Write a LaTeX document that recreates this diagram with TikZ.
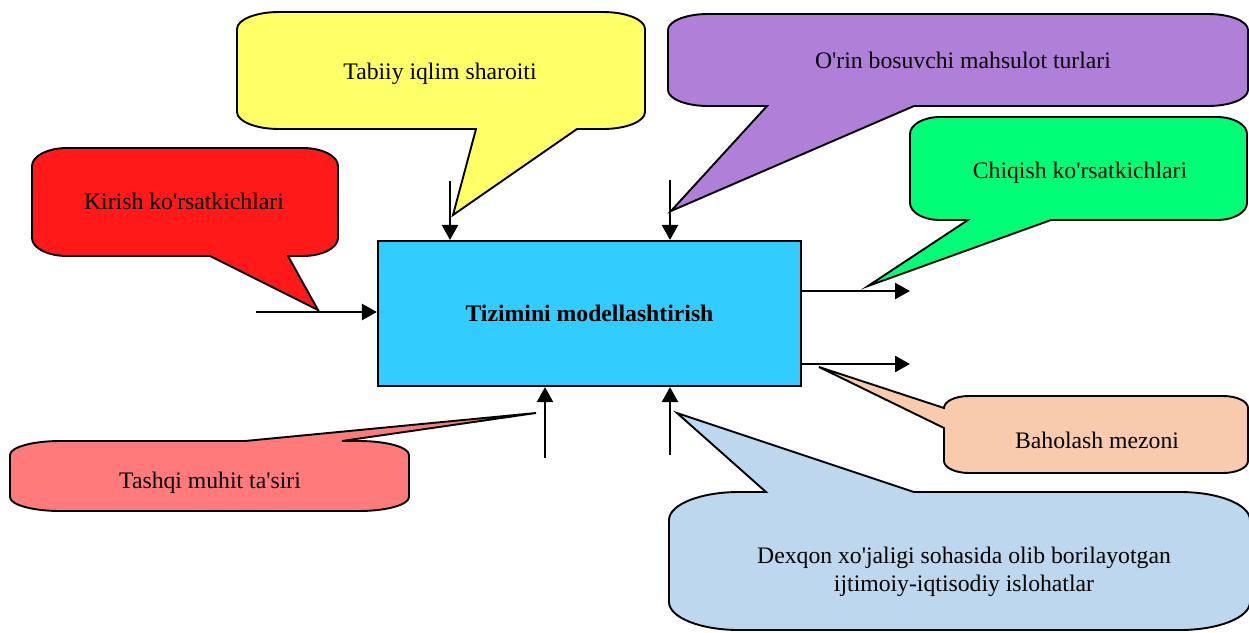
\documentclass[tikz,border=0pt]{standalone}
\usepackage{fontspec}
\setmainfont{Liberation Serif}[Ligatures=TeXOff]
\usetikzlibrary{arrows.meta}
\definecolor{cRed}{RGB}{255,25,25}
\definecolor{cYel}{RGB}{255,255,102}
\definecolor{cPur}{RGB}{176,127,216}
\definecolor{cGrn}{RGB}{0,255,119}
\definecolor{cCyan}{RGB}{51,204,255}
\definecolor{cPeach}{RGB}{248,203,173}
\definecolor{cSalmon}{RGB}{255,123,123}
\definecolor{cLBlue}{RGB}{189,215,238}
\begin{document}
\begin{tikzpicture}[x=1pt,y=-1pt,
  callout/.style={draw=black,line width=1.9pt,line join=miter},
  lbl/.style={font=\fontsize{23.7}{28}\selectfont,inner sep=0pt,anchor=base},
  arr/.style={line width=2.4pt,-{Triangle[length=15pt,width=16pt]}},
  mainbox/.style={draw=black,line width=2.1pt,fill=cCyan,inner sep=0pt,
    minimum width=423pt,minimum height=145pt,font=\fontsize{23.7}{28}\selectfont\bfseries}]
\useasboundingbox (0,0) rectangle (1249,632);

% Yellow callout
\path[callout,fill=cYel] (279,12) -- (603,12) arc[start angle=-90,end angle=0,x radius=42,y radius=17]
  -- (645,112) arc[start angle=0,end angle=90,x radius=42,y radius=17]
  -- (577,129) -- (453,215) -- (476,129) -- (279,129)
  arc[start angle=90,end angle=180,x radius=42,y radius=17]
  -- (237,29) arc[start angle=180,end angle=270,x radius=42,y radius=17] -- cycle;
% Purple callout
\path[callout,fill=cPur] (708,14) -- (1208,14) arc[start angle=-90,end angle=0,x radius=40,y radius=16]
  -- (1248,90) arc[start angle=0,end angle=90,x radius=40,y radius=16]
  -- (914,106) -- (671,211) -- (767,106) -- (708,106)
  arc[start angle=90,end angle=180,x radius=40,y radius=16]
  -- (668,30) arc[start angle=180,end angle=270,x radius=40,y radius=16] -- cycle;
% Red callout
\path[callout,fill=cRed] (67,148) -- (303,148) arc[start angle=-90,end angle=0,x radius=35,y radius=18]
  -- (338,238) arc[start angle=0,end angle=90,x radius=35,y radius=18]
  -- (288,256) -- (318,310) -- (210,256) -- (67,256)
  arc[start angle=90,end angle=180,x radius=35,y radius=18]
  -- (32,166) arc[start angle=180,end angle=270,x radius=35,y radius=18] -- cycle;
% Green callout
\path[callout,fill=cGrn] (940,117) -- (1217,117) arc[start angle=-90,end angle=0,x radius=30,y radius=17]
  -- (1247,203) arc[start angle=0,end angle=90,x radius=30,y radius=17]
  -- (1051,220) -- (868,286) -- (968,220) -- (940,220)
  arc[start angle=90,end angle=180,x radius=30,y radius=17]
  -- (910,134) arc[start angle=180,end angle=270,x radius=30,y radius=17] -- cycle;
% Peach callout
\path[callout,fill=cPeach] (969,396) -- (1223,396) arc[start angle=-90,end angle=0,x radius=25,y radius=12]
  -- (1248,461) arc[start angle=0,end angle=90,x radius=25,y radius=12]
  -- (969,473) arc[start angle=90,end angle=180,x radius=25,y radius=12]
  -- (944,428) -- (819,367) -- (944,408)
  arc[start angle=180,end angle=270,x radius=25,y radius=12] -- cycle;
% Salmon callout
\path[callout,fill=cSalmon] (60,441) -- (245,441) -- (536,413) -- (342,441) -- (359,441)
  arc[start angle=-90,end angle=0,x radius=50,y radius=14]
  -- (409,497) arc[start angle=0,end angle=90,x radius=50,y radius=14]
  -- (60,511) arc[start angle=90,end angle=180,x radius=50,y radius=14]
  -- (10,455) arc[start angle=180,end angle=270,x radius=50,y radius=14] -- cycle;
% Light blue callout
\path[callout,fill=cLBlue] (739,492) -- (766,492) -- (677,413) -- (914,492) -- (1180,492)
  arc[start angle=-90,end angle=0,x radius=70,y radius=28]
  -- (1250,602) arc[start angle=0,end angle=90,x radius=70,y radius=28]
  -- (739,630) arc[start angle=90,end angle=180,x radius=70,y radius=28]
  -- (669,520) arc[start angle=180,end angle=270,x radius=70,y radius=28] -- cycle;

% Texts
\node[lbl] (tY) at (440,79) {Tabiiy iqlim sharoiti};
\node[lbl] (tP) at (963,68) {O'rin bosuvchi mahsulot turlari};
\node[lbl] (tR) at (184,209) {Kirish ko'rsatkichlari};
\node[lbl] (tG) at (1080,178) {Chiqish ko'rsatkichlari};
\node[lbl] (tB) at (1097,448) {Baholash mezoni};
\node[lbl] (tS) at (210,488) {Tashqi muhit ta'siri};
\node[lbl] (tD1) at (964,563) {Dexqon xo'jaligi sohasida olib borilayotgan};
\node[lbl] (tD2) at (964,591) {ijtimoiy-iqtisodiy islohatlar};

% Main box
\node[mainbox] (main) at (589.5,313.5) {Tizimini modellashtirish};

% Arrows
\coordinate (inL) at (256,312);
\coordinate (inT1) at (450,181);
\coordinate (inT2) at (670,180);
\coordinate (out1) at (910,291);
\coordinate (out2) at (910,364);
\coordinate (inB1) at (545,458);
\coordinate (inB2) at (670,455);
\draw[arr] (inL) -- (inL -| main.west);
\draw[arr] (inT1) -- (inT1 |- main.north);
\draw[arr] (inT2) -- (inT2 |- main.north);
\draw[arr] (out1 -| main.east) -- (out1);
\draw[arr] (out2 -| main.east) -- (out2);
\draw[arr] (inB1) -- (inB1 |- main.south);
\draw[arr] (inB2) -- (inB2 |- main.south);
\end{tikzpicture}
\end{document}
